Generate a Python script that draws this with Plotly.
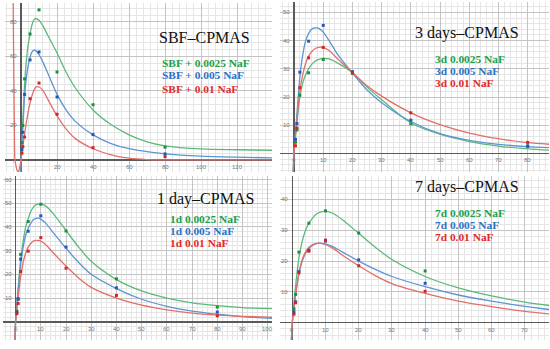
import plotly.graph_objects as go

# ---------------- data: measured points ----------------
t_pts = [0.5, 1, 2, 5, 10, 20, 40, 80]

sbf_green_pts = [10, 20, 47, 73, 87, 51, 32, 7.4]
sbf_blue_pts = [6, 16, 38, 58, 62.6, 36.5, 14.7, 3.5]
sbf_red_pts = [4, 7.7, 13.3, 35.5, 44.6, 26.5, 7.1, 1.9]

d3_green_pts = [4, 8.3, 20.6, 28.6, 33.3, 28.4, 10.5, 2.4]
d3_blue_pts = [5, 10.6, 28.8, 39.8, 45.4, 29.0, 11.8, 2.7]
d3_red_pts = [2.7, 9, 23.3, 33.9, 37.6, 28.6, 14.4, 3.9]

d1_green_pts = [4.5, 9.8, 28.4, 42.3, 49.6, 38.3, 18.1, 6.2]
d1_blue_pts = [4.0, 9.5, 26.4, 38.2, 44.7, 31.5, 14.3, 4.1]
d1_red_pts = [3.4, 7.7, 21.2, 29.8, 35.5, 22.6, 11.1, 2.5]

t7_pts = [0.5, 1, 2, 5, 10, 20, 40]
d7_green_pts = [4.5, 9.2, 22.9, 32.3, 36.3, 29.1, 16.8]
d7_blue_pts = [3.5, 6.8, 16.6, 23.5, 26.5, 20.4, 12.8]
d7_red_pts = [2.8, 6.5, 16.2, 23.2, 26.8, 18.5, 10.2]

# ---------------- data: fitted curves ----------------
sbf_cx = [-0.4, 0, 1, 2, 3, 4, 5, 6, 7, 8, 10, 12, 15, 20, 25, 30, 40, 50, 60, 70, 80, 100, 120, 140]
sbf_green_c = [-10, 0, 22, 44, 58, 67, 73, 78, 81, 82, 81, 78, 72, 62, 51, 42, 29, 20.5, 14.5, 10.5, 8.2, 6.4, 5.9, 5.6]
sbf_blue_c = [-10, 0, 18, 37, 48, 55, 59.5, 62.5, 63.5, 63.5, 61, 57, 50, 38, 29, 22.5, 14.5, 9.5, 6.5, 4.8, 3.5, 2.2, 1.6, 1.2]
sbf_red_cx = [-4.4, -4.0, -3.7, -3.4, -3.0, -2.5, -2.0, -1.5, -1.0, -0.5, 0, 1, 2, 3, 4, 5, 6, 7, 8, 9, 10, 12, 15, 20, 25, 30, 40, 50, 60, 70, 80, 100, 140]
sbf_red_c = [95, 50, 20, 0, -2.5, -5, -6.5, -6.8, -5.5, -3, 0, 8, 15, 22, 28, 33, 37, 40, 42, 42.5, 42.3, 40.5, 35, 25.5, 18, 12.5, 6.5, 3, 1, 0.2, 0, 0, 0]

d3_cx = [-0.3, 0, 1, 2, 3, 4, 5, 6, 7, 8, 9, 10, 12, 15, 20, 25, 30, 40, 50, 60, 70, 80, 88]
d3_green_c = [-8, 0, 11, 20, 25, 28, 30, 31.5, 32.5, 33.2, 33.5, 33.7, 33.5, 32, 28.6, 23.5, 19, 10.8, 6.8, 4.2, 2.6, 1.6, 1.1]
d3_blue_c = [-8, 0, 14, 27, 35, 40, 42.5, 44, 44.5, 44.5, 44, 43, 40, 35, 28.5, 22.5, 18, 11.3, 7, 4.6, 3.2, 2.4, 2.0]
d3_red_c = [-8, 0, 12, 22, 28, 32, 34.5, 36, 37, 37.5, 37.7, 37.6, 36.5, 33.5, 28.7, 24, 20.3, 14.4, 10.2, 7.2, 5.2, 3.8, 3.2]

d1_cx = [-0.3, 0, 1, 2, 3, 4, 5, 6, 7, 8, 9, 10, 12, 15, 20, 25, 30, 40, 50, 60, 70, 80, 90, 102]
d1_green_c = [-9, 0, 14, 26, 34, 40, 43.5, 46.5, 48.3, 49.3, 49.6, 49.7, 48.8, 45.5, 38.5, 31.5, 25.5, 17.8, 13, 10, 8, 6.8, 6, 5.5]
d1_blue_c = [-9, 0, 13, 24, 31.5, 36.5, 39.5, 41.5, 43, 43.6, 43.7, 43.3, 41.5, 37.5, 31, 25, 20, 14, 9.5, 6.5, 4.5, 3.2, 2.2, 1.4]
d1_red_c = [-9, 0, 10, 19, 25, 29, 31.5, 33, 34, 34.3, 34.3, 34, 32.5, 29, 23.5, 18.5, 14.5, 10, 7, 5, 3.6, 2.8, 2.3, 1.9]

d7_cx = [-0.3, 0, 1, 2, 3, 4, 5, 6, 7, 8, 10, 12, 15, 20, 25, 30, 40, 50, 60, 70, 78]
d7_green_c = [-7, 0, 12, 21, 26.5, 30, 32.3, 33.8, 35, 35.7, 36.1, 35.6, 33.5, 29, 24.5, 20.5, 15, 11.3, 8.7, 6.7, 5.5]
d7_blue_c = [-7, 0, 9, 16, 20, 22.5, 24, 25, 25.6, 25.8, 25.6, 24.8, 23, 20, 17.3, 15, 11.7, 9, 7, 5.3, 4.2]
d7_red_c = [-7, 0, 9, 16, 20.5, 23, 24.5, 25.3, 25.7, 25.8, 25.3, 24.3, 22, 18.5, 15.3, 12.7, 9.5, 7, 5.2, 3.7, 2.8]

# ---------------- tick labels ----------------
sbf_xticks = [20, 40, 60, 80, 100, 120]
sbf_yticks = [20, 40, 60, 80]
d3_xticks = [0, 10, 20, 30, 40, 50, 60, 70, 80]
d3_yticks = [10, 20, 30, 40, 50]
d1_xticks = [0, 10, 20, 30, 40, 50, 60, 70, 80, 90, 100]
d1_yticks = [10, 20, 30, 40, 50, 60]
d7_xticks = [0, 10, 20, 30, 40, 50, 60, 70]
d7_yticks = [10, 20, 30, 40]

titles = ["SBF\u2013CPMAS", "3 days\u2013CPMAS", "1 day\u2013CPMAS", "7 days\u2013CPMAS"]
legends = [
    ["SBF + 0.0025 NaF", "SBF + 0.005 NaF", "SBF + 0.01 NaF"],
    ["3d 0.0025 NaF", "3d 0.005 NaF", "3d 0.01 NaF"],
    ["1d 0.0025 NaF", "1d 0.005 NaF", "1d 0.01 NaF"],
    ["7d 0.0025 NaF", "7d 0.005 NaF", "7d 0.01 NaF"],
]

# ---------------- styling ----------------
W, H = 550, 349
LINE_COLORS = ["#5cb97a", "#5d95d3", "#e0706b"]
PT_COLORS = ["#1f8f3e", "#2656b8", "#d42525"]
TXT_COLORS = ["#1e9e4b", "#2a72c4", "#e02b2b"]

# panel pixel boxes: (left, right, top, bottom) and axis ranges
panels = [
    dict(box=(5, 272, 3, 172), xr=(-8.9, 139.4), yr=(-7.0, 91.0), xd=20, yd=20,
         cx=[sbf_cx, sbf_cx, sbf_red_cx], cy=[sbf_green_c, sbf_blue_c, sbf_red_c],
         px=t_pts, py=[sbf_green_pts, sbf_blue_pts, sbf_red_pts],
         xt=sbf_xticks, yt=sbf_yticks,
         title=(204, 37), leg=(161, [62.7, 75.3, 88.7])),
    dict(box=(280, 549, 2, 172), xr=(-4.8, 87.3), yr=(-6.6, 53.7), xd=10, yd=10,
         cx=[d3_cx] * 3, cy=[d3_green_c, d3_blue_c, d3_red_c],
         px=t_pts, py=[d3_green_pts, d3_blue_pts, d3_red_pts],
         xt=d3_xticks, yt=d3_yticks,
         title=(467, 32.7), leg=(434, [58.6, 70.6, 82.6])),
    dict(box=(3, 272, 176, 340), xr=(-5.0, 101.7), yr=(-7.7, 61.5), xd=10, yd=10,
         cx=[d1_cx] * 3, cy=[d1_green_c, d1_blue_c, d1_red_c],
         px=t_pts, py=[d1_green_pts, d1_blue_pts, d1_red_pts],
         xt=d1_xticks, yt=d1_yticks,
         title=(205.3, 198.7), leg=(169.3, [219.0, 231.0, 243.0])),
    dict(box=(280, 549, 176, 340), xr=(-3.7, 77.3), yr=(-5.6, 47.6), xd=10, yd=10,
         cx=[d7_cx] * 3, cy=[d7_green_c, d7_blue_c, d7_red_c],
         px=t7_pts, py=[d7_green_pts, d7_blue_pts, d7_red_pts],
         xt=d7_xticks, yt=d7_yticks,
         title=(467.2, 186.7), leg=(434.3, [212.5, 224.5, 236.7])),
]

fig = go.Figure()
annotations = []
layout = {}

for i, p in enumerate(panels, start=1):
    xa = "x" if i == 1 else f"x{i}"
    ya = "y" if i == 1 else f"y{i}"
    L, R, T, B = p["box"]
    axis_common = dict(showticklabels=False, ticks="", showline=False,
                       zeroline=True, zerolinecolor="#5a5a5a", zerolinewidth=1.5,
                       showgrid=True, gridcolor="#c4c4c4", gridwidth=1)
    layout["xaxis" if i == 1 else f"xaxis{i}"] = dict(
        axis_common, domain=[L / W, R / W], range=list(p["xr"]), dtick=p["xd"], tick0=0,
        anchor=ya, minor=dict(dtick=p["xd"] / 5, showgrid=True, gridcolor="#e6e6e6", gridwidth=1))
    layout["yaxis" if i == 1 else f"yaxis{i}"] = dict(
        axis_common, domain=[1 - B / H, 1 - T / H], range=list(p["yr"]), dtick=p["yd"], tick0=0,
        anchor=xa, minor=dict(dtick=p["yd"] / 5, showgrid=True, gridcolor="#e6e6e6", gridwidth=1))

    for k in range(3):
        fig.add_trace(go.Scatter(x=p["cx"][k], y=p["cy"][k], mode="lines",
                                 line=dict(color=LINE_COLORS[k], width=1.3, shape="spline", smoothing=0.8),
                                 xaxis=xa, yaxis=ya, showlegend=False, hoverinfo="skip"))
    for k in range(3):
        fig.add_trace(go.Scatter(x=p["px"], y=p["py"][k], mode="markers",
                                 marker=dict(color=PT_COLORS[k], size=3, symbol="square"),
                                 xaxis=xa, yaxis=ya, showlegend=False, hoverinfo="skip"))

    for v in p["xt"]:
        annotations.append(dict(x=v, y=0, xref=xa, yref=ya, text=str(v), showarrow=False,
                                xanchor="center", yanchor="top", yshift=-2,
                                font=dict(size=6, color="#777777", family="Liberation Sans")))
    for v in p["yt"]:
        annotations.append(dict(x=0, y=v, xref=xa, yref=ya, text=str(v), showarrow=False,
                                xanchor="right", yanchor="middle", xshift=-2,
                                font=dict(size=6, color="#777777", family="Liberation Sans")))

    tx, ty = p["title"]
    annotations.append(dict(x=tx / W, y=1 - ty / H, xref="paper", yref="paper", text=titles[i - 1],
                            showarrow=False, xanchor="center", yanchor="middle",
                            font=dict(size=16, color="#111111", family="Liberation Serif")))
    lx, lys = p["leg"]
    for k in range(3):
        annotations.append(dict(x=lx / W, y=1 - lys[k] / H, xref="paper", yref="paper",
                                text="<b>" + legends[i - 1][k] + "</b>", showarrow=False,
                                xanchor="left", yanchor="middle", borderpad=0,
                                font=dict(size=11.4, color=TXT_COLORS[k], family="Liberation Serif")))

fig.update_layout(**layout)
fig.update_layout(width=W, height=H, margin=dict(l=0, r=0, t=0, b=0),
                  paper_bgcolor="white", plot_bgcolor="white", annotations=annotations,
                  showlegend=False)
fig.write_html("out.html", config={"displayModeBar": False, "staticPlot": True},
               post_script="document.body.style.margin='0px';document.body.style.overflow='hidden';")
